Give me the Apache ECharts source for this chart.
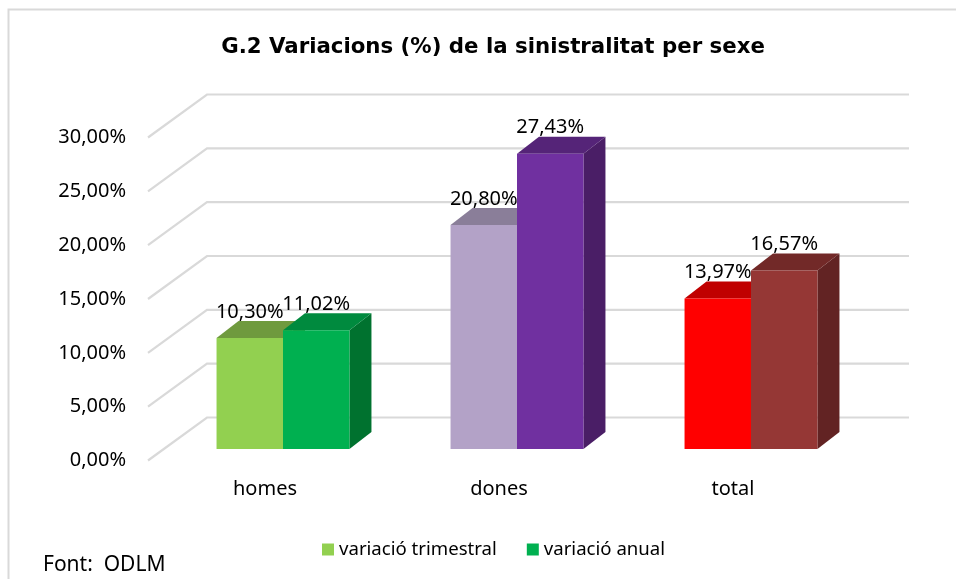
<!DOCTYPE html>
<html>
<head>
<meta charset="utf-8">
<script src="https://cdn.jsdelivr.net/npm/echarts@6/dist/echarts.min.js"></script>
<style>
html,body{margin:0;padding:0;background:#fff;}
#chart{width:956px;height:579px;}
</style>
</head>
<body>
<div id="chart"></div>
<script>
// ---- data ----
const categories = ['homes', 'dones', 'total'];
const trimestral = [10.30, 20.80, 13.97];
const anual = [11.02, 27.43, 16.57];
const tickValues = [0, 5, 10, 15, 20, 25, 30];
const seriesNames = ['variació trimestral', 'variació anual'];

// ---- styles ----
const trimFront = ['#92D050', '#B3A2C7', '#FF0000'];
const trimTop = ['#6F9A3E', '#8A7E99', '#C00000'];
const trimSide = ['#5E8634', '#776B86', '#A00000'];
const anuFront = ['#00B050', '#7030A0', '#953735'];
const anuTop = ['#008A3E', '#552478', '#722928'];
const anuSide = ['#00722F', '#4A1E66', '#622323'];

const FONT = '"Noto Sans", "Open Sans", sans-serif';
const DEPTH = [59, -43];      // full depth of the floor
const BAR_OFF = [18, -11.5];  // bar front face offset
const BAR_DEPTH = [22, -17];  // bar depth
const BAR_W = 0.284;

function fmt(v) { return v.toFixed(2).replace('.', ',') + '%'; }

function barRenderer(sIdx, front, top, side) {
  return function (params, api) {
    const c = api.value(0), v = api.value(1);
    const p0 = api.coord([c, 0]);
    const p1 = api.coord([c, v]);
    const w = api.size([1, 0])[0] * BAR_W;
    const xl = p0[0] + BAR_OFF[0] + (sIdx === 0 ? -w : 0);
    const xr = xl + w;
    const yb = p0[1] + BAR_OFF[1];
    const yt = p1[1] + BAR_OFF[1];
    const dx = BAR_DEPTH[0], dy = BAR_DEPTH[1];
    const i = params.dataIndex;
    return {
      type: 'group',
      children: [
        { type: 'polygon', shape: { points: [[xr, yb], [xr, yt], [xr + dx, yt + dy], [xr + dx, yb + dy]] },
          style: { fill: side[i] }, z2: 1 },
        { type: 'polygon', shape: { points: [[xl, yt], [xr, yt], [xr + dx, yt + dy], [xl + dx, yt + dy]] },
          style: { fill: top[i] }, z2: 2 },
        { type: 'rect', shape: { x: xl, y: yt, width: w, height: yb - yt },
          style: { fill: front[i] }, z2: 3 },
        { type: 'text', z2: 100,
          style: { x: (xl + xr) / 2, y: yt - 26, text: fmt(v), fill: '#000',
                   font: '20px ' + FONT, align: 'center', verticalAlign: 'middle' } }
      ]
    };
  };
}

function wallRenderer(params, api) {
  const v = api.value(0);
  const a = api.coord([0, v]);
  const s = api.size([1, 0])[0];
  const xLeft = a[0] - s / 2;
  const xRight = xLeft + s * categories.length;
  const y = a[1];
  const style = { stroke: '#D9D9D9', lineWidth: 2.2, fill: null };
  return {
    type: 'group',
    children: [
      { type: 'polyline', shape: { points: [[xLeft, y], [xLeft + DEPTH[0], y + DEPTH[1]], [xRight + DEPTH[0], y + DEPTH[1]]] },
        style: style }
    ]
  };
}

const chart = echarts.init(document.getElementById('chart'), null, { renderer: 'canvas' });
chart.setOption({
  backgroundColor: '#fff',
  animation: false,
  title: {
    text: 'G.2 Variacions (%) de la sinistralitat per sexe',
    left: 488, top: 32, textAlign: 'center',
    textStyle: { fontFamily: '"DejaVu Sans", sans-serif', fontWeight: 'bold', fontSize: 21.3, color: '#000' }
  },
  legend: {
    data: seriesNames,
    left: 317, top: 535,
    icon: 'rect', itemWidth: 12, itemHeight: 12, itemGap: 30,
    textStyle: { fontFamily: FONT, fontSize: 18.6, color: '#000' }
  },
  grid: { left: 148, right: 106, top: 137.5, bottom: 118.5 },
  xAxis: {
    type: 'category', data: categories,
    axisLine: { show: false }, axisTick: { show: false }, splitLine: { show: false },
    axisLabel: { margin: 19, fontFamily: FONT, fontSize: 20, color: '#000' }
  },
  yAxis: {
    type: 'value', min: 0, max: 30, interval: 5,
    axisLine: { show: false }, axisTick: { show: false }, splitLine: { show: false },
    axisLabel: { margin: 22, fontFamily: FONT, fontSize: 20, color: '#000', formatter: fmt }
  },
  graphic: [
    { type: 'rect', shape: { x: 8.5, y: 9.5, width: 1200, height: 1200 },
      style: { fill: null, stroke: '#D9D9D9', lineWidth: 2 }, silent: true, z: -1 },
    { type: 'text', left: 43, top: 555,
      style: { text: 'Font:  ODLM', font: '21px ' + FONT, fill: '#000' } }
  ],
  series: [
    { type: 'custom', name: 'wall', silent: true, z: 1,
      data: tickValues.map(v => [v]), renderItem: wallRenderer, encode: { y: 0 } },
    { type: 'custom', name: seriesNames[0], z: 2, itemStyle: { color: '#92D050' },
      data: trimestral.map((v, i) => [i, v]), encode: { x: 0, y: 1 },
      renderItem: barRenderer(0, trimFront, trimTop, trimSide) },
    { type: 'custom', name: seriesNames[1], z: 2, itemStyle: { color: '#00B050' },
      data: anual.map((v, i) => [i, v]), encode: { x: 0, y: 1 },
      renderItem: barRenderer(1, anuFront, anuTop, anuSide) }
  ]
});
</script>
</body>
</html>
